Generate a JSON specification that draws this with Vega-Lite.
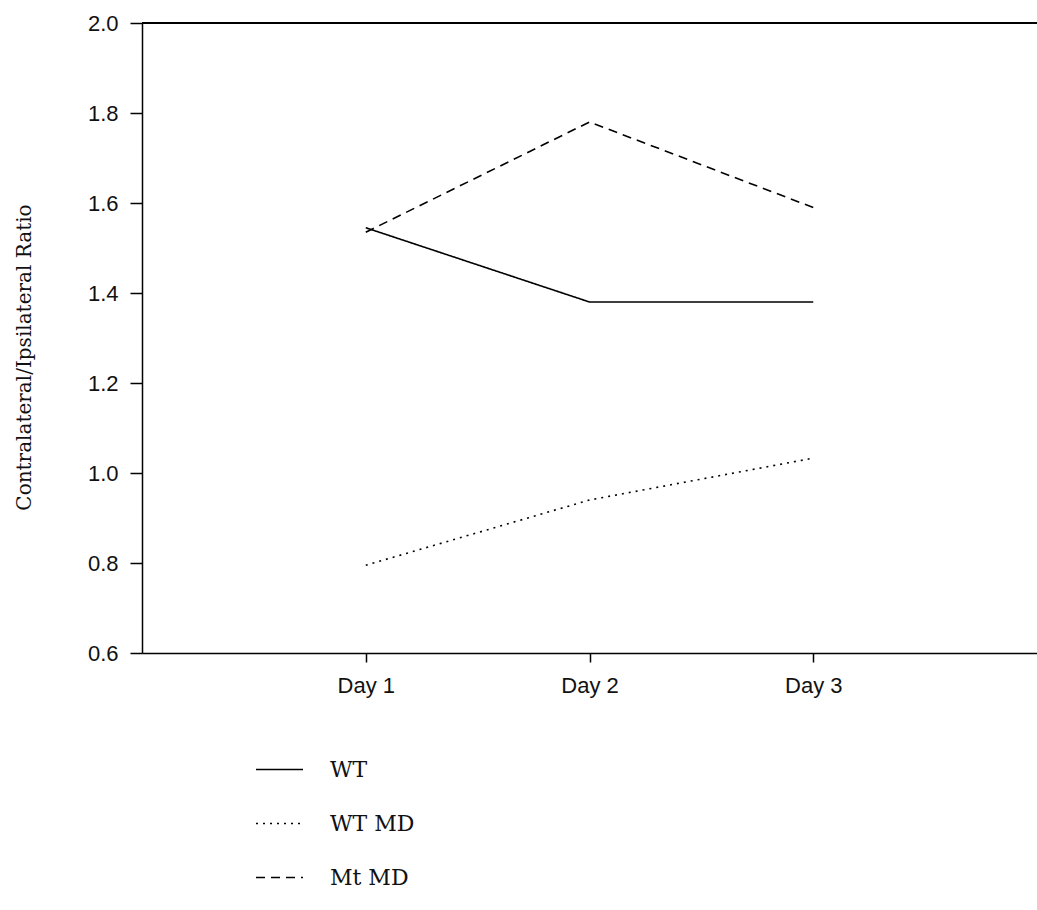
{
  "$schema": "https://vega.github.io/schema/vega-lite/v6.json",
  "autosize": {"type": "none"},
  "padding": {"left": 142, "top": 23, "right": 0, "bottom": 257},
  "width": 895,
  "height": 630,
  "background": "white",
  "config": {
    "view": {"stroke": null},
    "axis": {"grid": false, "domainColor": "black", "domainWidth": 1.5, "tickColor": "black", "tickWidth": 1.5, "labelColor": "#111", "titleColor": "#111"}
  },
  "data": {
    "values": [
      {"day": "Day 1", "group": "WT", "ratio": 1.545},
      {"day": "Day 2", "group": "WT", "ratio": 1.38},
      {"day": "Day 3", "group": "WT", "ratio": 1.38},
      {"day": "Day 1", "group": "WT MD", "ratio": 0.795},
      {"day": "Day 2", "group": "WT MD", "ratio": 0.94},
      {"day": "Day 3", "group": "WT MD", "ratio": 1.033},
      {"day": "Day 1", "group": "Mt MD", "ratio": 1.535},
      {"day": "Day 2", "group": "Mt MD", "ratio": 1.78},
      {"day": "Day 3", "group": "Mt MD", "ratio": 1.59}
    ]
  },
  "layer": [
    {
      "mark": {"type": "rule", "color": "black", "strokeWidth": 1.5},
      "encoding": {"y": {"datum": 2.0, "type": "quantitative", "scale": {"domain": [0.6, 2.0]}}}
    },
    {
      "mark": {"type": "line", "color": "black", "strokeWidth": 1.6},
      "encoding": {
        "x": {
          "field": "day", "type": "ordinal",
          "scale": {"type": "point", "padding": 1, "domain": ["Day 1", "Day 2", "Day 3"]},
          "axis": {"title": null, "labelAngle": 0, "tickSize": 9, "labelPadding": 13, "labelFont": "Liberation Sans", "labelFontSize": 22}
        },
        "y": {
          "field": "ratio", "type": "quantitative",
          "scale": {"domain": [0.6, 2.0], "nice": false, "zero": false},
          "axis": {
            "title": "Contralateral/Ipsilateral Ratio",
            "values": [0.6, 0.8, 1.0, 1.2, 1.4, 1.6, 1.8, 2.0],
            "format": ".1f",
            "tickSize": 12, "labelPadding": 12,
            "labelFont": "Liberation Sans", "labelFontSize": 22,
            "titleFont": "DejaVu Serif", "titleFontSize": 20, "titleFontWeight": "normal",
            "titleX": -118, "titleY": 334, "titleAlign": "center", "titleBaseline": "middle", "titleAngle": -90
          }
        },
        "strokeDash": {
          "field": "group", "type": "nominal",
          "scale": {"domain": ["WT", "WT MD", "Mt MD"], "range": [[1, 0], [2, 5], [9, 6]]},
          "legend": {
            "title": null, "orient": "none", "legendX": 113, "legendY": 722,
            "symbolType": "stroke", "symbolSize": 2209, "symbolStrokeColor": "black", "symbolStrokeWidth": 1.6,
            "labelFont": "DejaVu Serif", "labelFontSize": 22, "labelColor": "#111", "labelOffset": 26,
            "rowPadding": 18, "padding": 0
          }
        }
      }
    }
  ]
}
